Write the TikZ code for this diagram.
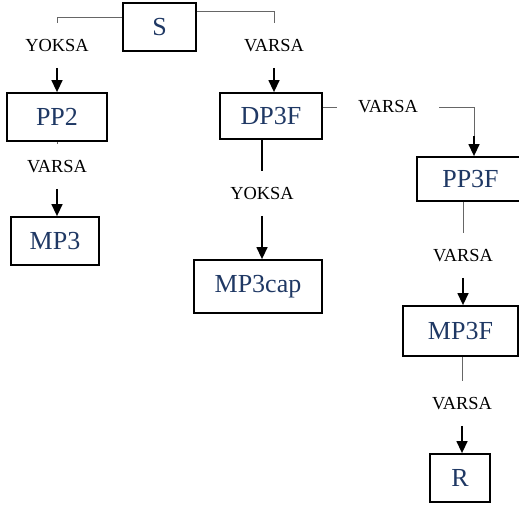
\documentclass[tikz,border=0pt]{standalone}
\usepackage{fontspec}
\setmainfont{Liberation Serif}
\usepackage{tikz}
\usetikzlibrary{arrows.meta,calc,positioning}
\definecolor{lacivert}{RGB}{31,56,100}

\begin{document}
\begin{tikzpicture}[x=0.5pt,y=-0.5pt,>={Triangle[length=6pt,width=5.5pt]}]
    \tikzstyle{kutu}=[rectangle,draw,line width=0.9pt,text=lacivert,font=\fontsize{13}{15}\selectfont,inner sep=0pt]
    \tikzstyle{etiket}=[inner sep=0pt,minimum height=22pt,minimum width=20pt,font=\fontsize{9.2}{11}\selectfont]
    \tikzstyle{ince}=[gray!80!black,line width=0.45pt]
    \tikzstyle{ok}=[black,line width=0.7pt,->]
    \useasboundingbox (0,0) rectangle (519,509);
    % kutular
    \node[kutu,minimum width=36.5pt,minimum height=24pt] (S) at (159.5,27) {S};
    \node[kutu,minimum width=50pt,minimum height=24pt] (PP2) at (57,117) {PP2};
    \node[kutu,minimum width=51pt,minimum height=23pt] (DP3F) at (271,116) {DP3F};
    \node[kutu,minimum width=44pt,minimum height=24pt] (MP3) at (55,241) {MP3};
    \node[kutu,minimum width=64pt,minimum height=26.5pt] (MP3cap) at (258,286.5) {MP3cap};
    \node[kutu,minimum width=53.5pt,minimum height=22pt] (PP3F) at (470.5,179) {PP3F};
    \node[kutu,minimum width=57.5pt,minimum height=25pt] (MP3F) at (460.5,331) {MP3F};
    \node[kutu,minimum width=30pt,minimum height=24pt] (R) at (460,478) {R};
    % etiketler
    \node[etiket] (yoksaS) at (57,45.5) {YOKSA};
    \node[etiket] (varsaS) at (274,45.5) {VARSA};
    \node[etiket] (varsaPP2) at (57,166.5) {VARSA};
    \node[etiket] (yoksaDP3F) at (262,193.5) {YOKSA};
    \node[etiket,minimum width=51pt] (varsaDP3F) at (388,107) {VARSA};
    \node[etiket] (varsaPP3F) at (463,255.5) {VARSA};
    \node[etiket] (varsaMP3F) at (462,403.5) {VARSA};
    % baglantilar
    \draw[ince] ([yshift=5pt]S.west) -| (yoksaS.north);
    \draw[ok] (yoksaS.south) -- (PP2.north);
    \draw[ince] ([yshift=8pt]S.east) -| (varsaS.north);
    \draw[ok] (varsaS.south) -- (varsaS.south |- DP3F.north);
    \draw[ince] (PP2.south) -- (varsaPP2.north);
    \draw[ok] (varsaPP2.south) -- (varsaPP2.south |- MP3.north);
    \draw[black,line width=0.7pt] (DP3F.south -| yoksaDP3F) -- (yoksaDP3F.north);
    \draw[ok] (yoksaDP3F.south) -- (yoksaDP3F.south |- MP3cap.north);
    \draw[ince] ([yshift=4.5pt]DP3F.east) -- (varsaDP3F.west);
    \draw[ince] (varsaDP3F.east) -| ($(PP3F.north)+(3.5,-20)$);
    \draw[ok] ($(PP3F.north)+(3.5,-20)$) -- ([xshift=1.75pt]PP3F.north);
    \draw[ince] (PP3F.south -| varsaPP3F) -- (varsaPP3F.north);
    \draw[ok] (varsaPP3F.south) -- (varsaPP3F.south |- MP3F.north);
    \draw[ince] (MP3F.south -| varsaMP3F) -- (varsaMP3F.north);
    \draw[ok] (varsaMP3F.south) -- (varsaMP3F.south |- R.north);
\end{tikzpicture}
\end{document}
